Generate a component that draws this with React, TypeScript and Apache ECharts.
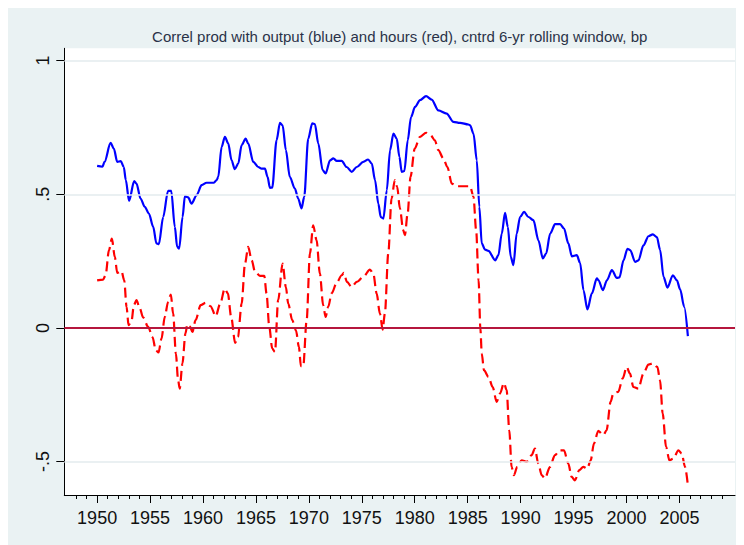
import React, { useEffect, useRef } from "react";
import * as echarts from "echarts";

const titleText =
  "Correl prod with output (blue) and hours (red), cntrd 6-yr rolling window, bp";

const majorYears = [1950, 1955, 1960, 1965, 1970, 1975, 1980, 1985, 1990, 1995, 2000, 2005];
const minorYears = [
  1948, 1949, 1950, 1951, 1952, 1953, 1954, 1955, 1956, 1957, 1958, 1959, 1960, 1961, 1962, 1963,
  1964, 1965, 1966, 1967, 1968, 1969, 1970, 1971, 1972, 1973, 1974, 1975, 1976, 1977, 1978, 1979,
  1980, 1981, 1982, 1983, 1984, 1985, 1986, 1987, 1988, 1989, 1990, 1991, 1992, 1993, 1994, 1995,
  1996, 1997, 1998, 1999, 2000, 2001, 2002, 2003, 2004, 2005, 2006, 2007, 2008, 2009,
];
const yTickValues = [-0.5, 0, 0.5, 1];
const yTickLabels = ["-.5", "0", ".5", "1"];
const gridValues = [-0.5, 0.5, 1];

// output correlation (blue, solid)
const blueYears = [
  1950.0, 1950.5, 1950.7, 1951.27, 1951.58, 1951.9, 1952.24, 1952.52, 1952.71, 1953.02, 1953.5,
  1953.72, 1954.1, 1954.5, 1954.89, 1955.3, 1955.6, 1955.83, 1956.24, 1956.7, 1957.0, 1957.34,
  1957.56, 1957.75, 1958.07, 1958.29, 1958.6, 1958.92, 1959.39, 1959.87, 1960.34, 1961.03, 1961.29,
  1961.44, 1961.76, 1962.07, 1962.38, 1962.7, 1963.0, 1963.33, 1963.65, 1964.03, 1964.27, 1964.75,
  1965.22, 1965.54, 1965.85, 1966.1, 1966.32, 1966.54, 1966.95, 1967.27, 1967.52, 1967.83, 1968.2,
  1968.68, 1968.99, 1969.31, 1969.56, 1969.94, 1970.32, 1970.57, 1970.89, 1971.3, 1971.59, 1972.0,
  1972.31, 1972.63, 1973.1, 1973.57, 1974.05, 1974.52, 1975.14, 1975.6, 1975.94, 1976.25, 1976.56,
  1976.79, 1977.04, 1977.36, 1977.67, 1977.99, 1978.3, 1978.55, 1978.77, 1979.02, 1979.34, 1979.65,
  1980.03, 1980.5, 1981.07, 1981.6, 1982.23, 1983.02, 1983.65, 1984.28, 1985.07, 1985.23, 1985.55,
  1985.86, 1986.1, 1986.33, 1986.65, 1986.96, 1987.6, 1987.9, 1988.22, 1988.53, 1988.79, 1989.07,
  1989.32, 1989.63, 1989.95, 1990.33, 1990.74, 1991.21, 1991.68, 1992.1, 1992.41, 1992.79, 1993.26,
  1993.73, 1994.1, 1994.51, 1994.84, 1995.31, 1995.62, 1995.94, 1996.31, 1996.73, 1997.2, 1997.36,
  1997.77, 1998.15, 1998.62, 1999.09, 1999.34, 1999.72, 2000.09, 2000.35, 2000.82, 2001.13, 2001.6,
  2002.08, 2002.49, 2002.87, 2003.18, 2003.5, 2003.87, 2004.38, 2004.76, 2005.07, 2005.45, 2005.8,
];
const blueValues = [
  0.606, 0.603, 0.621, 0.692, 0.671, 0.621, 0.624, 0.602, 0.553, 0.475, 0.549,
  0.54, 0.484, 0.453, 0.428, 0.378, 0.316, 0.313, 0.415, 0.513, 0.513, 0.378,
  0.303, 0.297, 0.415, 0.493, 0.488, 0.465, 0.496, 0.534, 0.543, 0.543, 0.553,
  0.565, 0.677, 0.715, 0.69, 0.627, 0.594, 0.615, 0.684, 0.708, 0.69, 0.621,
  0.602, 0.596, 0.596, 0.565, 0.524, 0.525, 0.702, 0.767, 0.758, 0.665, 0.565,
  0.521, 0.484, 0.447, 0.49, 0.708, 0.765, 0.762, 0.69, 0.59, 0.578, 0.627,
  0.634, 0.625, 0.625, 0.602, 0.584, 0.602, 0.621, 0.63, 0.615, 0.553, 0.465,
  0.415, 0.409, 0.515, 0.665, 0.727, 0.708, 0.64, 0.584, 0.587, 0.702, 0.789,
  0.827, 0.852, 0.867, 0.854, 0.814, 0.802, 0.771, 0.767, 0.761, 0.758, 0.727,
  0.627, 0.453, 0.316, 0.293, 0.288, 0.253, 0.272, 0.353, 0.43, 0.378, 0.266,
  0.235, 0.353, 0.415, 0.434, 0.415, 0.403, 0.328, 0.26, 0.278, 0.353, 0.388,
  0.388, 0.372, 0.316, 0.268, 0.272, 0.243, 0.141, 0.069, 0.129, 0.185, 0.178,
  0.141, 0.178, 0.216, 0.187, 0.189, 0.253, 0.296, 0.291, 0.247, 0.253, 0.309,
  0.343, 0.35, 0.34, 0.291, 0.191, 0.151, 0.197, 0.178, 0.144, 0.079, -0.031,
];

// hours correlation (red, dashed)
const redYears = [
  1950.0, 1950.57, 1950.8, 1951.12, 1951.39, 1951.67, 1951.9, 1952.3, 1952.56, 1952.78, 1952.97,
  1953.25, 1953.47, 1953.72, 1954.03, 1954.35, 1954.82, 1955.23, 1955.54, 1955.8, 1956.08, 1956.39,
  1956.7, 1956.96, 1957.18, 1957.44, 1957.65, 1957.8, 1958.06, 1958.34, 1958.53, 1958.76, 1959.0,
  1959.3, 1959.78, 1960.25, 1960.72, 1961.2, 1961.63, 1962.05, 1962.35, 1962.66, 1963.04, 1963.3,
  1963.65, 1963.97, 1964.27, 1964.6, 1964.91, 1965.38, 1965.79, 1966.0, 1966.26, 1966.54, 1966.8,
  1967.1, 1967.52, 1967.83, 1968.05, 1968.43, 1968.78, 1969.06, 1969.25, 1969.47, 1969.79, 1970.1,
  1970.41, 1970.73, 1971.04, 1971.35, 1971.58, 1971.83, 1972.15, 1972.62, 1973.1, 1973.3, 1973.6,
  1974.05, 1974.52, 1975.14, 1975.77, 1976.09, 1976.4, 1976.71, 1976.97, 1977.18, 1977.5, 1977.81,
  1978.12, 1978.34, 1978.6, 1978.91, 1979.07, 1979.33, 1979.6, 1980.0, 1980.5, 1981.07, 1981.5,
  1981.9, 1982.23, 1982.7, 1983.08, 1983.5, 1983.97, 1984.9, 1985.23, 1985.55, 1985.8, 1986.03,
  1986.2, 1986.33, 1986.54, 1986.96, 1987.36, 1987.74, 1988.05, 1988.43, 1988.68, 1988.93, 1989.15,
  1989.37, 1989.68, 1990.1, 1990.57, 1991.04, 1991.35, 1991.67, 1991.99, 1992.3, 1992.77, 1993.24,
  1993.7, 1994.1, 1994.5, 1994.82, 1995.13, 1995.54, 1995.92, 1996.3, 1996.62, 1996.93, 1997.34,
  1997.81, 1998.12, 1998.5, 1998.75, 1999.22, 1999.64, 2000.02, 2000.33, 2000.65, 2001.12, 2001.6,
  2002.07, 2002.48, 2002.92, 2003.17, 2003.42, 2003.74, 2004.05, 2004.43, 2004.9, 2005.22, 2005.53,
  2005.8,
];
const redValues = [
  0.178, 0.181, 0.197, 0.291, 0.334, 0.266, 0.206, 0.213, 0.178, 0.079, 0.01,
  0.026, 0.085, 0.104, 0.073, 0.039, 0.004, -0.034, -0.083, -0.092, -0.04, 0.041,
  0.097, 0.125, 0.054, -0.096, -0.196, -0.227, -0.133, -0.021, 0.014, 0.006, -0.015,
  0.029, 0.085, 0.094, 0.081, 0.044, 0.091, 0.147, 0.129, 0.041, -0.056, -0.034,
  0.091, 0.241, 0.303, 0.253, 0.21, 0.195, 0.195, 0.129, 0.004, -0.077, -0.09,
  0.104, 0.241, 0.153, 0.091, 0.029, -0.009, -0.071, -0.143, -0.143, 0.029, 0.278,
  0.384, 0.328, 0.203, 0.085, 0.041, 0.079, 0.129, 0.168, 0.197, 0.206, 0.172,
  0.153, 0.172, 0.191, 0.218, 0.203, 0.129, 0.054, -0.006, 0.054, 0.278, 0.484,
  0.553, 0.528, 0.447, 0.366, 0.347, 0.428, 0.565, 0.671, 0.715, 0.73, 0.721,
  0.702, 0.665, 0.634, 0.602, 0.54, 0.53, 0.53, 0.53, 0.49, 0.366, 0.178,
  -0.002, -0.096, -0.158, -0.183, -0.221, -0.277, -0.246, -0.206, -0.233, -0.383, -0.52,
  -0.551, -0.52, -0.495, -0.501, -0.476, -0.451, -0.507, -0.551, -0.563, -0.52, -0.476,
  -0.458, -0.458, -0.507, -0.557, -0.57, -0.532, -0.52, -0.526, -0.495, -0.432, -0.385,
  -0.401, -0.383, -0.277, -0.246, -0.239, -0.189, -0.146, -0.171, -0.221, -0.227, -0.171,
  -0.137, -0.133, -0.146, -0.196, -0.32, -0.445, -0.495, -0.489, -0.458, -0.47, -0.52,
  -0.589,
];

const FONT = "'Liberation Sans', Arial, sans-serif";

export default function App() {
  const ref = useRef<HTMLDivElement>(null);

  useEffect(() => {
    document.documentElement.style.overflow = "hidden";
    if (!ref.current) return;
    const chart = echarts.init(ref.current, undefined, { renderer: "svg" });
    const blueData = blueYears.map((y, i) => [y, blueValues[i]]);
    const redData = redYears.map((y, i) => [y, redValues[i]]);
    const xMin = 1946.9;
    const xMax = 2010.25;
    chart.setOption({
      animation: false,
      backgroundColor: "#eaf2f3",
      title: {
        text: titleText,
        left: 391.7,
        top: 21,
        textAlign: "center",
        padding: 0,
        textStyle: { fontFamily: FONT, fontSize: 15, fontWeight: "normal", color: "#2a3248" },
      },
      grid: {
        left: 56.3,
        top: 40.3,
        right: 9,
        bottom: 50,
        show: true,
        backgroundColor: "#ffffff",
        borderWidth: 0,
      },
      xAxis: [
        {
          type: "value",
          min: xMin,
          max: xMax,
          axisLine: { show: true, onZero: false, lineStyle: { color: "#000", width: 1 } },
          axisTick: { show: true, length: 8, customValues: majorYears, lineStyle: { color: "#000", width: 1 } },
          axisLabel: {
            customValues: majorYears,
            fontFamily: FONT,
            fontSize: 18,
            color: "#111",
            margin: 14,
            formatter: (v: number) => String(Math.round(v)),
          },
          splitLine: { show: false },
        },
        {
          type: "value",
          min: xMin,
          max: xMax,
          position: "bottom",
          axisLine: { show: false, onZero: false },
          axisTick: { show: true, length: 4, customValues: minorYears, lineStyle: { color: "#000", width: 1 } },
          axisLabel: { show: false },
          splitLine: { show: false },
        },
      ],
      yAxis: {
        type: "value",
        min: -0.625,
        max: 1.046,
        axisLine: { show: true, onZero: false, lineStyle: { color: "#000", width: 1 } },
        axisTick: { show: true, length: 8, customValues: yTickValues, lineStyle: { color: "#000", width: 1 } },
        axisLabel: {
          customValues: yTickValues,
          rotate: 90,
          fontFamily: FONT,
          fontSize: 18,
          color: "#111",
          margin: 12,
          formatter: (v: number) => {
            const i = yTickValues.findIndex((t) => Math.abs(t - v) < 1e-6);
            return i >= 0 ? yTickLabels[i] : "";
          },
        },
        splitLine: { show: false },
      },
      series: [
        {
          type: "line",
          data: [],
          silent: true,
          z: 1,
          markLine: {
            silent: true,
            symbol: "none",
            label: { show: false },
            lineStyle: { color: "#e3ebee", width: 1.5, type: "solid" },
            data: gridValues.map((v) => ({ yAxis: v })),
          },
        },
        {
          type: "line",
          data: [],
          silent: true,
          z: 2,
          markLine: {
            silent: true,
            symbol: "none",
            label: { show: false },
            lineStyle: { color: "#b5173d", width: 2, type: "solid" },
            data: [{ yAxis: 0 }],
          },
        },
        {
          name: "hours",
          type: "line",
          data: redData,
          showSymbol: false,
          symbol: "none",
          smooth: 0.3,
          smoothMonotone: "x",
          z: 3,
          lineStyle: { color: "#ff0000", width: 2.2, type: [10, 5] },
        },
        {
          name: "output",
          type: "line",
          data: blueData,
          showSymbol: false,
          symbol: "none",
          smooth: 0.3,
          smoothMonotone: "x",
          z: 4,
          lineStyle: { color: "#0000ff", width: 2.2 },
        },
      ],
    });
    return () => chart.dispose();
  }, []);

  return <div ref={ref} style={{ width: 736, height: 537 }} />;
}
